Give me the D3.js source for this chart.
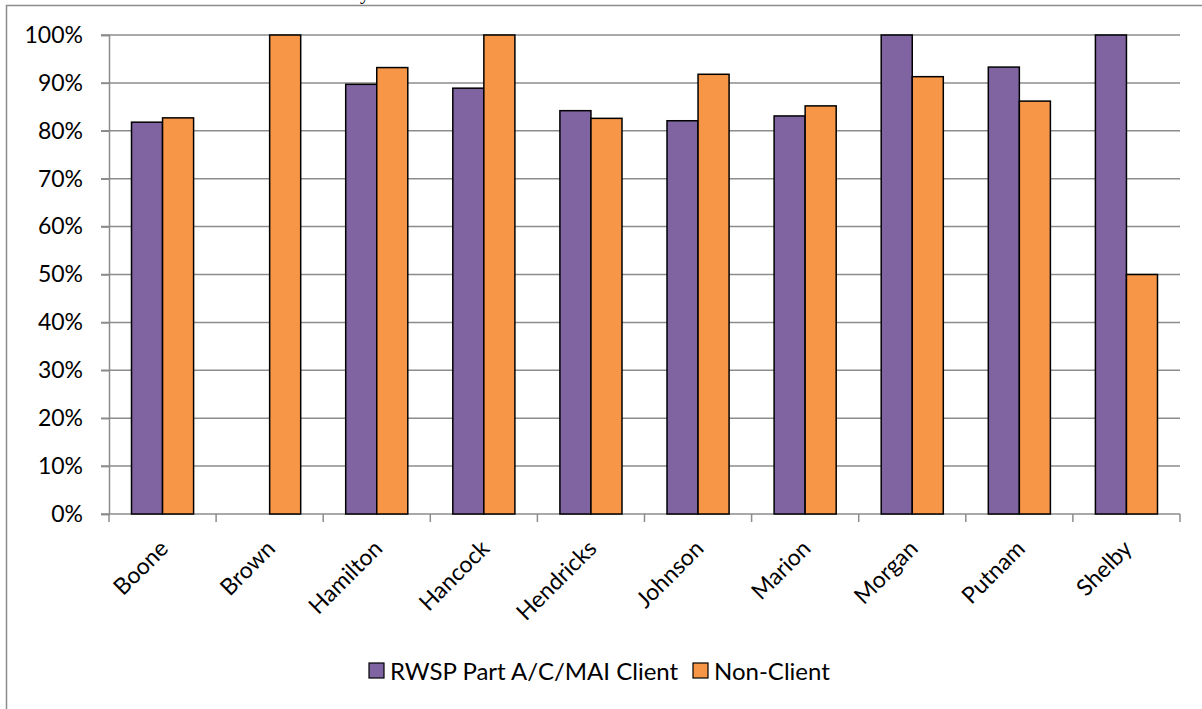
<!DOCTYPE html>
<html>
<head>
<meta charset="utf-8">
<script src="https://cdn.jsdelivr.net/npm/d3@7"></script>
<style>
body{margin:0;background:#fff}
svg text{font-family:Lato,"Open Sans",sans-serif;fill:#000}
</style>
</head>
<body>
<div id="chart"></div>
<script>
var counties=['Boone','Brown','Hamilton','Hancock','Hendricks','Johnson','Marion','Morgan','Putnam','Shelby']
var clientPct=[81.8,null,89.7,88.9,84.2,82.1,83.1,100,93.3,100]
var nonClientPct=[82.7,100,93.2,100,82.6,91.8,85.2,91.3,86.2,50]
var seriesNames=['RWSP Part A/C/MAI Client','Non-Client']
var seriesColors=['#8064A2','#F79646']
var yTicks=[0,10,20,30,40,50,60,70,80,90,100]

var W=1202,H=709
var svg=d3.select('#chart').append('svg')
    .attr('width',W).attr('height',H)

// chart frame (top of it is cut off in the page)
svg.append('path')
    .attr('d','M6.5,'+H+'V5.5H'+W)
    .attr('fill','none')
    .attr('stroke','#8c8c8c')
    .attr('stroke-width',1.5)
// descender of the title text above the frame
svg.append('text')
    .attr('x',360).attr('y',-1)
    .style('font-family','Liberation Serif')
    .style('font-size','20px')
    .text('y')

var pl=109,pr=1180,pt=35,pb=514
var fs='23px'

var x=d3.scaleBand().domain(counties).range([pl,pr]).paddingInner(0).paddingOuter(0)
var y=d3.scaleLinear().domain([0,100]).range([pb,pt])
var bw=x.bandwidth()/3.45
var gx=function(i){return x(counties[i])+x.bandwidth()/2-bw}

// gridlines
svg.append('g').selectAll('line')
    .data(yTicks.slice(1))
    .enter().append('line')
    .attr('x1',pl-8).attr('x2',pr)
    .attr('y1',function(d){return y(d)}).attr('y2',function(d){return y(d)})
    .attr('stroke','#8c8c8c').attr('stroke-width',1.5)

// y axis
var ya=svg.append('g').attr('transform','translate('+pl+',0)')
    .call(d3.axisLeft(y).tickValues(yTicks).tickSize(8).tickPadding(18).tickFormat(function(d){return d+'%'}))
ya.select('.domain').attr('stroke','#8c8c8c').attr('stroke-width',1.5)
ya.selectAll('.tick line').attr('stroke','#8c8c8c').attr('stroke-width',1.5)
ya.selectAll('text').style('font-size',fs).style('font-family','Lato,"Open Sans",sans-serif')

// x axis
var ticks=counties.map(function(c){return x(c)}).concat([pr])
var xa=svg.append('g')
xa.append('line').attr('x1',pl-8).attr('x2',pr).attr('y1',pb).attr('y2',pb)
    .attr('stroke','#8c8c8c').attr('stroke-width',1.5)
xa.selectAll('line.tk').data(ticks).enter().append('line')
    .attr('class','tk')
    .attr('x1',function(d){return d}).attr('x2',function(d){return d})
    .attr('y1',pb).attr('y2',pb+8)
    .attr('stroke','#8c8c8c').attr('stroke-width',1.5)
xa.selectAll('text').data(counties).enter().append('text')
    .attr('transform',function(d){return 'translate('+(x(d)+x.bandwidth()/2+7)+','+(pb+36)+') rotate(-45)'})
    .attr('text-anchor','end')
    .style('font-size',fs)
    .text(function(d){return d})

// bars
var series=[clientPct,nonClientPct]
series.forEach(function(vals,s){
    var pts=vals.map(function(v,i){return {v:v,i:i}}).filter(function(d){return d.v!=null})
    svg.append('g').selectAll('rect')
	.data(pts)
	.enter().append('rect')
	.attr('x',function(d){return gx(d.i)+s*bw})
	.attr('y',function(d){return y(d.v)})
	.attr('width',bw)
	.attr('height',function(d){return pb-y(d.v)})
	.attr('fill',seriesColors[s])
	.attr('stroke','#000').attr('stroke-width',1.5)
})

// legend
var lg=svg.append('g').attr('transform','translate(369,671)')
var lx=[0,324]
seriesNames.forEach(function(n,i){
    lg.append('rect').attr('x',lx[i]).attr('y',-8).attr('width',15).attr('height',15)
	.attr('fill',seriesColors[i]).attr('stroke','#000').attr('stroke-width',1.2)
    lg.append('text').attr('x',lx[i]+21).attr('y',8.5)
	.style('font-size','24px').text(n)
})
</script>
</body>
</html>
